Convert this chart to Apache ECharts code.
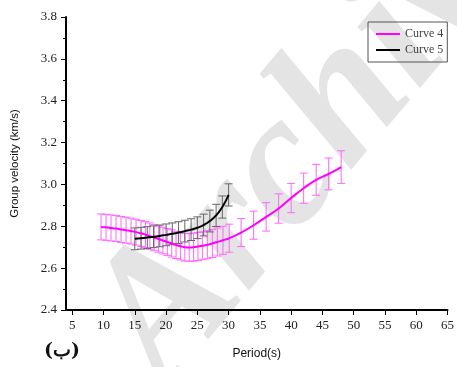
<!DOCTYPE html>
<html>
<head>
<meta charset="utf-8">
<script src="https://cdn.jsdelivr.net/npm/echarts@6/dist/echarts.min.js"></script>
<style>html,body{margin:0;padding:0;background:#fff;}#c{width:457px;height:367px;}</style>
</head>
<body>
<div id="c"></div>
<script>
// ---- data ----
const xTicks = [5, 10, 15, 20, 25, 30, 35, 40, 45, 50, 55, 60, 65];
const yTicks = [2.4, 2.6, 2.8, 3.0, 3.2, 3.4, 3.6, 3.8];

const curve4Period = [9.6, 10.4, 11.2, 12.0, 12.8, 13.6, 14.4, 15.2, 16.0, 16.7, 17.4, 18.1, 18.8, 19.5, 20.2, 20.9, 21.6, 22.3, 23.0, 23.7, 24.4, 25.1, 25.8, 26.6, 27.4, 28.2, 29.1, 30.1, 32.0, 34.0, 36.0, 38.0, 40.0, 42.0, 44.0, 46.0, 48.0];
const curve4Value = [2.797, 2.795, 2.792, 2.789, 2.785, 2.781, 2.777, 2.772, 2.766, 2.760, 2.753, 2.746, 2.739, 2.732, 2.725, 2.718, 2.711, 2.705, 2.700, 2.699, 2.700, 2.703, 2.707, 2.712, 2.718, 2.725, 2.733, 2.743, 2.770, 2.805, 2.845, 2.885, 2.935, 2.982, 3.022, 3.050, 3.083];
const curve4Error = [0.062, 0.062, 0.062, 0.062, 0.062, 0.062, 0.062, 0.062, 0.062, 0.062, 0.063, 0.063, 0.063, 0.064, 0.064, 0.065, 0.065, 0.066, 0.066, 0.066, 0.067, 0.067, 0.067, 0.067, 0.067, 0.067, 0.067, 0.067, 0.067, 0.067, 0.068, 0.07, 0.07, 0.072, 0.074, 0.076, 0.078];

const curve5Period = [15, 16, 17, 18, 19, 20, 21, 22, 23, 24, 25, 26, 27, 28, 29, 30];
const curve5Value = [2.740, 2.743, 2.746, 2.750, 2.754, 2.759, 2.764, 2.770, 2.777, 2.784, 2.793, 2.806, 2.825, 2.852, 2.892, 2.950];
const curve5Error = [0.052, 0.052, 0.052, 0.052, 0.052, 0.052, 0.052, 0.052, 0.052, 0.052, 0.052, 0.052, 0.052, 0.053, 0.053, 0.053];

// ---- build ----
function pairs(xs, ys) { return xs.map((x, i) => [x, ys[i]]); }
function bars(xs, ys, es) { return xs.map((x, i) => [x, ys[i] - es[i], ys[i] + es[i]]); }

function errorRender(color) {
  return function (params, api) {
    const x = api.value(0);
    const lo = api.coord([x, api.value(1)]);
    const hi = api.coord([x, api.value(2)]);
    const w = 4;
    const st = { stroke: color, lineWidth: 1 };
    return {
      type: 'group',
      children: [
        { type: 'line', shape: { x1: lo[0], y1: lo[1], x2: hi[0], y2: hi[1] }, style: st },
        { type: 'line', shape: { x1: lo[0] - w, y1: lo[1], x2: lo[0] + w, y2: lo[1] }, style: st },
        { type: 'line', shape: { x1: hi[0] - w, y1: hi[1], x2: hi[0] + w, y2: hi[1] }, style: st }
      ]
    };
  };
}

const chart = echarts.init(document.getElementById('c'), null, { renderer: 'canvas' });
const serif = '"Liberation Serif", "DejaVu Serif", serif';
const sans = '"Liberation Sans", Arial, sans-serif';
const lineIcon = 'path://M0,0 L0.01,0 M0,6 L24,6 L24,8 L0,8 Z M0,14 L0.01,14';

chart.setOption({
  animation: false,
  backgroundColor: '#fff',
  grid: { left: 66, right: 8, top: 17, bottom: 57, containLabel: false },
  xAxis: {
    type: 'value', min: 4, max: 65,
    name: 'Period(s)', nameLocation: 'middle', nameGap: 38,
    nameTextStyle: { fontFamily: sans, fontSize: 12, color: '#111' },
    axisLine: { show: true, onZero: false, lineStyle: { color: '#000', width: 2 } },
    axisTick: { show: true, inside: false, length: 5, customValues: xTicks, lineStyle: { color: '#000', width: 1 } },
    axisLabel: { customValues: xTicks, fontFamily: serif, fontSize: 13, color: '#222', margin: 9 },
    splitLine: { show: false }
  },
  yAxis: {
    type: 'value', min: 2.4, max: 3.8, interval: 0.2,
    name: 'Group velocity (km/s)', nameLocation: 'middle', nameGap: 45, nameRotate: 90,
    nameTextStyle: { fontFamily: sans, fontSize: 11.5, color: '#111' },
    axisLine: { show: true, onZero: false, lineStyle: { color: '#000', width: 2 } },
    axisTick: { show: true, inside: false, length: 5, lineStyle: { color: '#000', width: 1 } },
    minorTick: { show: true, splitNumber: 2, length: 3, lineStyle: { color: '#000', width: 1 } },
    axisLabel: { fontFamily: serif, fontSize: 13, color: '#222', margin: 9, formatter: v => v.toFixed(1) },
    splitLine: { show: false }
  },
  legend: {
    orient: 'vertical', left: 368, top: 22, padding: [5, 4, 5, 8],
    borderColor: '#555', borderWidth: 1, itemWidth: 24, itemHeight: 14, itemGap: 2,
    textStyle: { fontFamily: serif, fontSize: 12, color: '#444' },
    data: [{ name: 'Curve 4', icon: lineIcon }, { name: 'Curve 5', icon: lineIcon }]
  },
  graphic: [
    {
      type: 'text', z: -10, x: 200, y: 420, rotation: 0.87,
      style: { text: 'Archive', font: 'italic bold 190px "Liberation Serif"', fill: '#e4e4e4', verticalAlign: 'bottom', align: 'left' }
    },
    {
      type: 'text', x: 44, y: 342,
      style: { text: '(ب)', font: 'bold 19px "DejaVu Serif"', fill: '#111' }
    }
  ],
  series: [
    {
      name: 'Curve 4 err', type: 'custom', renderItem: errorRender('#ff66ff'),
      data: bars(curve4Period, curve4Value, curve4Error), z: 2, silent: true
    },
    {
      name: 'Curve 5 err', type: 'custom', renderItem: errorRender('#666666'),
      data: bars(curve5Period, curve5Value, curve5Error), z: 2, silent: true
    },
    {
      name: 'Curve 4', type: 'line', data: pairs(curve4Period, curve4Value),
      symbol: 'none', smooth: true, color: '#ff00ff', lineStyle: { color: '#ff00ff', width: 2 }, z: 3
    },
    {
      name: 'Curve 5', type: 'line', data: pairs(curve5Period, curve5Value),
      symbol: 'none', smooth: true, color: '#000', lineStyle: { color: '#000', width: 2 }, z: 4
    }
  ]
});
</script>
</body>
</html>
